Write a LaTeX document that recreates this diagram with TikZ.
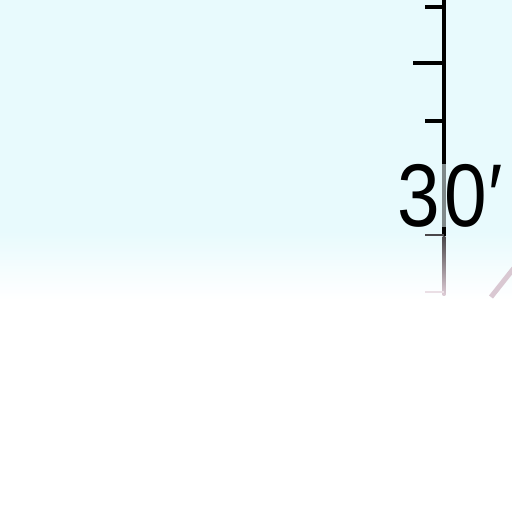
\documentclass[tikz,border=0pt]{standalone}
\usepackage{fontspec}
\setmainfont{Liberation Sans}
\definecolor{skyc}{HTML}{E8FAFD}
\definecolor{fadeg}{HTML}{4A474A}
\definecolor{pinkg}{HTML}{D4BFCB}
\begin{document}
\begin{tikzpicture}[x=1pt,y=-1pt,
  axisline/.style={line width=3.2pt,black},
  tickmark/.style={line width=3.2pt,black},
  fadetick/.style={line width=2.8pt,fadeg}]
\useasboundingbox (0,0) rectangle (512,512);
\fill[white] (0,0) rectangle (512,512);
\fill[skyc] (0,0) rectangle (512,232);
\shade[top color=skyc,bottom color=white] (0,231) rectangle (512,300);
% axis
\coordinate (top) at (444,0);
\coordinate (mid) at (444,236);
\coordinate (bot) at (444,295);
\draw[axisline] (top) -- (mid);
\shade[top color=fadeg,bottom color=pinkg!80] (442.6,236) rectangle (445.4,295);
% ticks
\coordinate (t1a) at (425,7);   \coordinate (t1b) at (444,7);
\coordinate (t2a) at (413,63);  \coordinate (t2b) at (444,63);
\coordinate (t3a) at (425,121); \coordinate (t3b) at (444,121);
\coordinate (t5a) at (425,235); \coordinate (t5b) at (444,235);
\coordinate (t6a) at (425,292); \coordinate (t6b) at (444,292);
\draw[tickmark] (t1a) -- (t1b);
\draw[tickmark] (t2a) -- (t2b);
\draw[tickmark] (t3a) -- (t3b);
\draw[fadetick] (t5a) -- (t5b);
\draw[fadetick,color=pinkg!50] (t6a) -- (t6b);
% label
\node[font=\fontsize{89}{89}\selectfont,inner sep=0pt,xscale=0.86,anchor=base west,fill=skyc,fill opacity=0.55,text opacity=1] (lab) at (397,226) {3\kern6pt0\kern1pt′};
% diagonal
\coordinate (d1) at (491,297);
\coordinate (d2) at (514,268);
\draw[pinkg,line width=5pt,opacity=0.85] (d1) -- (d2);
\end{tikzpicture}
\end{document}
